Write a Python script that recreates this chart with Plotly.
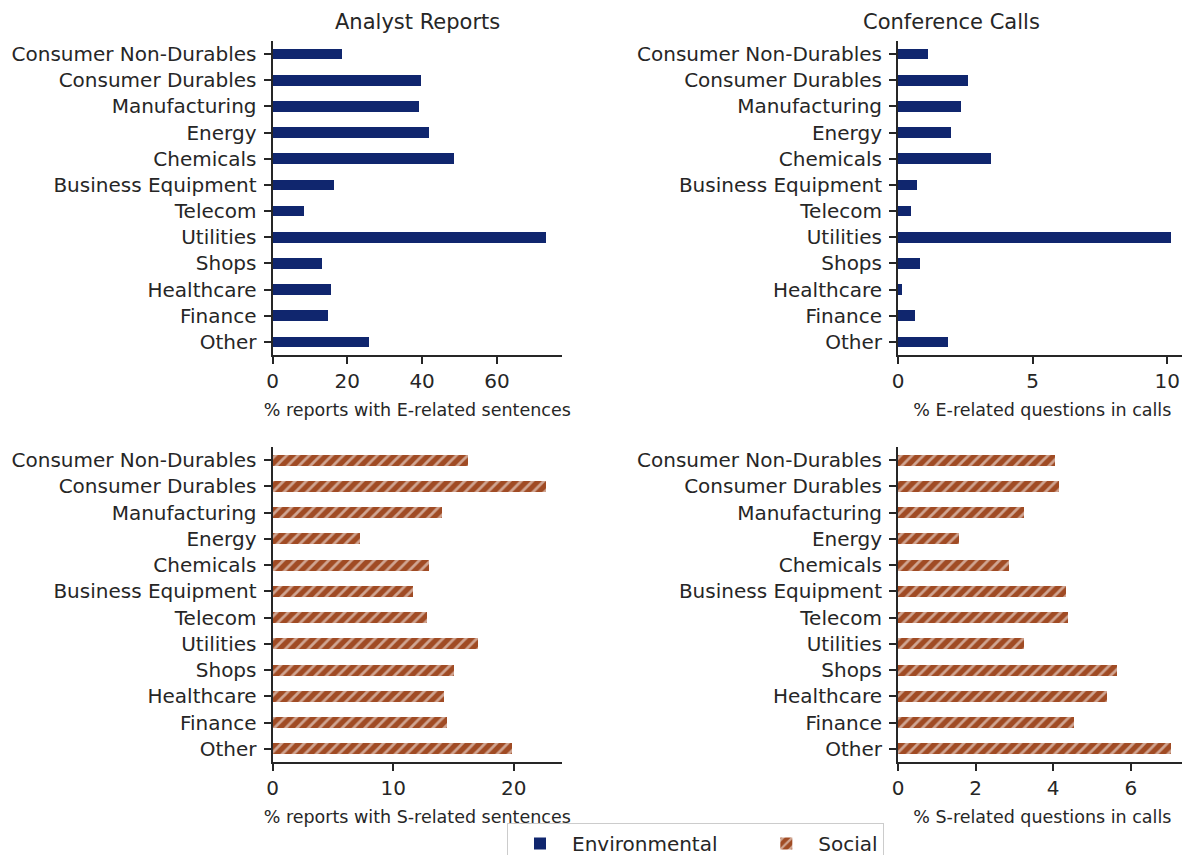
import plotly.graph_objects as go

industries = ["Consumer Non-Durables", "Consumer Durables", "Manufacturing", "Energy",
              "Chemicals", "Business Equipment", "Telecom", "Utilities", "Shops",
              "Healthcare", "Finance", "Other"]

analyst_env = [18.5, 39.5, 39.1, 41.7, 48.4, 16.3, 8.2, 73.1, 13.0, 15.6, 14.6, 25.7]
calls_env = [1.13, 2.6, 2.35, 1.96, 3.47, 0.72, 0.47, 10.14, 0.82, 0.16, 0.64, 1.86]
analyst_soc = [16.2, 22.6, 14.05, 7.2, 12.9, 11.6, 12.8, 17.0, 15.0, 14.2, 14.4, 19.8]
calls_soc = [4.04, 4.15, 3.24, 1.57, 2.86, 4.34, 4.39, 3.24, 5.64, 5.38, 4.53, 7.04]

titles = ["Analyst Reports", "Conference Calls"]
xtitles = ["% reports with E-related sentences", "% E-related questions in calls",
           "% reports with S-related sentences", "% S-related questions in calls"]
legend_names = ["Environmental", "Social"]

ENV = "#10266E"
SOC = "#A04B24"
INK = "#262626"
FONT = "DejaVu Sans"

W, H = 1182, 847
OFF = 8  # page body margin


def fx(px):
    return (px - OFF) / W


def fy(py):
    return 1 - (py - OFF) / H


fig = go.Figure()

panels = [
    (analyst_env, "x", "y", 77.4, [0, 20, 40, 60]),
    (calls_env, "x2", "y2", 10.72, [0, 5, 10]),
    (analyst_soc, "x3", "y3", 24.0, [0, 10, 20]),
    (calls_soc, "x4", "y4", 7.44, [0, 2, 4, 6]),
]

for i, (vals, xa, ya, xmax, ticks) in enumerate(panels):
    social = i >= 2
    if social:
        marker = dict(color=SOC, line=dict(width=0),
                      pattern=dict(shape="/", fgcolor="white", bgcolor=SOC,
                                   fillmode="overlay", size=8, solidity=0.35))
        name = legend_names[1]
    else:
        marker = dict(color=ENV, line=dict(width=0))
        name = legend_names[0] + "\u00a0" * 5
    fig.add_trace(go.Bar(
        x=vals, y=industries, orientation="h", xaxis=xa, yaxis=ya,
        width=0.41, marker=marker, name=name,
        showlegend=(i == 0 or i == 2),
    ))

xdom = [[fx(272.5), fx(562)], [fx(898), fx(1186.7)]]
ydom = [[fy(355), fy(41)], [fy(762), fy(447)]]

axis_common = dict(showline=True, linecolor=INK, linewidth=2, ticks="outside",
                   ticklen=7, tickwidth=2, tickcolor=INK, showgrid=False, zeroline=False,
                   tickfont=dict(family=FONT, size=20, color=INK))

layout = {}
for i, (vals, xa, ya, xmax, ticks) in enumerate(panels):
    r, c = divmod(i, 2)
    xk = "xaxis" if i == 0 else f"xaxis{i+1}"
    yk = "yaxis" if i == 0 else f"yaxis{i+1}"
    layout[xk] = dict(axis_common, domain=xdom[c], anchor=ya, range=[0, xmax],
                      tickvals=ticks,
                      title=dict(text=xtitles[i], font=dict(family=FONT, size=17.5, color=INK),
                                 standoff=12))
    layout[yk] = dict(axis_common, domain=ydom[r], anchor=xa, type="category",
                      categoryorder="array", categoryarray=industries,
                      range=[11.5, -0.5], ticklabelstandoff=3)

fig.update_layout(**layout)

for c, t in enumerate(titles):
    fig.add_annotation(text=t, x=(xdom[c][0] + xdom[c][1]) / 2, y=fy(22),
                       xref="paper", yref="paper", showarrow=False,
                       font=dict(family=FONT, size=21, color=INK), yanchor="middle")

fig.update_layout(
    width=W, height=H,
    margin=dict(l=0, r=0, t=0, b=0, autoexpand=False),
    paper_bgcolor="white", plot_bgcolor="white",
    bargap=0,
    font=dict(family=FONT, color=INK),
    legend=dict(orientation="h", x=fx(507), xanchor="left", y=fy(823), yanchor="top",
                bordercolor="#CCCCCC", borderwidth=1,
                font=dict(family=FONT, size=20, color=INK),
                itemwidth=54, traceorder="normal"),
)

fig.write_html("out.html")
